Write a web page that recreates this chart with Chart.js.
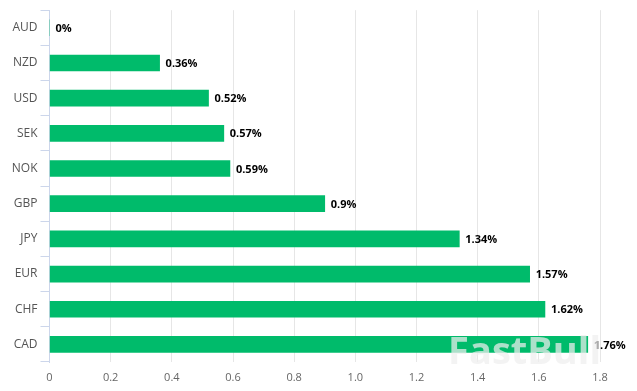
<!DOCTYPE html>
<html>
<head>
  <meta charset="UTF-8">
  <title>Currency change</title>
  <style>
    body { margin: 0; background: #fff; }
    #wrap { width: 637px; height: 391px; }
  </style>
</head>
<body>
  <div id="wrap"><canvas id="chart" width="637" height="391"></canvas></div>
  <script src="https://cdn.jsdelivr.net/npm/chart.js"></script>
  <script>
    const currencies = ["AUD", "NZD", "USD", "SEK", "NOK", "GBP", "JPY", "EUR", "CHF", "CAD"];
    const changes = [0, 0.36, 0.52, 0.57, 0.59, 0.9, 1.34, 1.57, 1.62, 1.76];
    const labels = ["0%", "0.36%", "0.52%", "0.57%", "0.59%", "0.9%", "1.34%", "1.57%", "1.62%", "1.76%"];

    const fontFamily = "'Open Sans', 'DejaVu Sans', sans-serif";

    // value labels at the end of each bar
    const valueLabels = {
      id: "valueLabels",
      afterDatasetsDraw(chart) {
        const ctx = chart.ctx;
        const meta = chart.getDatasetMeta(0);
        ctx.save();
        ctx.font = "bold 11px " + fontFamily;
        ctx.fillStyle = "#000";
        ctx.textAlign = "left";
        ctx.textBaseline = "middle";
        meta.data.forEach((bar, i) => {
          ctx.fillText(labels[i], bar.x + 6, bar.y + 1);
        });
        ctx.restore();
      }
    };

    // faint watermark, bottom right
    const watermark = {
      id: "watermark",
      afterDraw(chart) {
        const ctx = chart.ctx;
        ctx.save();
        ctx.font = "bold 38px " + fontFamily;
        ctx.fillStyle = "rgba(238, 238, 238, 0.72)";
        ctx.textAlign = "right";
        ctx.textBaseline = "alphabetic";
        ctx.fillText("FastBull", 601, 364);
        ctx.restore();
      }
    };

    new Chart(document.getElementById("chart"), {
      type: "bar",
      data: {
        labels: currencies,
        datasets: [{
          data: changes,
          backgroundColor: "#00bb6b",
          barThickness: 16
        }]
      },
      options: {
        indexAxis: "y",
        responsive: false,
        animation: false,
        layout: { padding: { top: 7, right: 37, left: 0, bottom: 0 } },
        plugins: {
          legend: { display: false },
          tooltip: { enabled: false }
        },
        scales: {
          x: {
            min: 0,
            max: 1.8,
            ticks: {
              stepSize: 0.2,
              color: "#666",
              padding: 9,
              font: { family: fontFamily, size: 11 }
            },
            grid: { color: "#e6e6e6", drawTicks: false },
            border: { display: false },
            afterFit(scale) { scale.height = 29; }
          },
          y: {
            ticks: {
              color: "#555",
              padding: 3,
              font: { family: fontFamily, size: 12 }
            },
            grid: { drawOnChartArea: false, drawTicks: true, tickLength: 9, color: "#ccd6eb" },
            border: { display: true, color: "#ccd6eb" },
            afterFit(scale) { scale.width = 49.5; }
          }
        }
      },
      plugins: [valueLabels, watermark]
    });
  </script>
</body>
</html>
